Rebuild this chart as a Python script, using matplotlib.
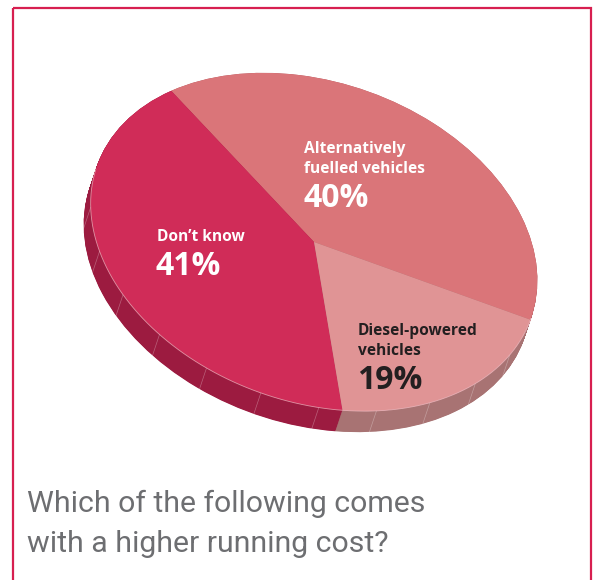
import numpy as np
import matplotlib.pyplot as plt
from matplotlib.patches import PathPatch, Rectangle
from matplotlib.transforms import Affine2D

# survey answers
answers = ['Alternatively\nfuelled vehicles', 'Don\u2019t know', 'Diesel-powered\nvehicles']
shares = [40, 41, 19]
top_colors = ['#da7579', '#d02c58', '#e09495']
side_colors = ['#b35d62', '#9c1b40', '#a87373']
text_colors = ['white', 'white', '#231f20']
question = ['Which of the following comes', 'with a higher running cost?']

# label anchors (first baseline, left edge) in pixels
label_xy = [(304, 153), (157, 241), (358, 335)]

# tilted disc geometry, pixel units (y grows downward)
cx, cy = 314, 242
a, b = 230, 160
tilt = 19.4
dx, dy = -7, 21

W, H = 597, 580
fig = plt.figure(figsize=(W / 100, H / 100), dpi=100)
ax = fig.add_axes([0, 0, 1, 1])

wedges, _ = ax.pie(shares, colors=top_colors, startangle=-0.5, counterclock=True,
                   wedgeprops=dict(linewidth=0))

disc = Affine2D().scale(a, -b).rotate_deg(tilt).translate(cx, cy)

# side wall: stack shifted copies of the wedges underneath the top face
for frac in np.linspace(1, 0, 45):
    shift = disc + Affine2D().translate(dx * frac, dy * frac) + ax.transData
    for w, col in zip(wedges, side_colors):
        ax.add_patch(PathPatch(w.get_path(), transform=shift, fc=col, ec='none',
                               lw=0, zorder=1))

for w in wedges:
    w.set_transform(disc + ax.transData)
    w.set_zorder(3)

# faint facet seams and rim on the visible part of the wall
t = np.radians(np.arange(0, 360, 15))
rim = disc.transform(np.c_[np.cos(t), np.sin(t)])
normal = Affine2D().scale(1 / a, -1 / b).rotate_deg(tilt).transform(np.c_[np.cos(t), np.sin(t)])
for (x0, y0), n in zip(rim, normal):
    if n[0] * dx + n[1] * dy > 0.15 * np.hypot(*n) * np.hypot(dx, dy):
        ax.plot([x0, x0 + dx], [y0, y0 + dy], color='white', alpha=0.3, lw=0.5, zorder=2)

tt = np.linspace(0, 2 * np.pi, 400)
edge = disc.transform(np.c_[np.cos(tt), np.sin(tt)])
nrm = Affine2D().scale(1 / a, -1 / b).rotate_deg(tilt).transform(np.c_[np.cos(tt), np.sin(tt)])
vis = (nrm[:, 0] * dx + nrm[:, 1] * dy) > 0
ex = np.where(vis, edge[:, 0], np.nan)
ey = np.where(vis, edge[:, 1], np.nan)
ax.plot(ex, ey, color='#f4c0c8', lw=0.6, alpha=0.7, zorder=4)

# labels
for (x, y), name, pct, col in zip(label_xy, answers, shares, text_colors):
    lines = name.split('\n')
    for i, line in enumerate(lines):
        ax.text(x, y + 20 * i, line, color=col, fontsize=11.2, fontweight='bold',
                family='Open Sans', ha='left', va='baseline', zorder=5)
    ax.text(x - 1, y + 20 * (len(lines) - 1) + 34, f'{pct}%', color=col, fontsize=23,
            fontweight='bold', family='Open Sans', ha='left', va='baseline', zorder=5)

for i, line in enumerate(question):
    ax.text(27, 512 + 40 * i, line, color='#6d6e71', fontsize=21.8,
            family='Roboto', ha='left', va='baseline', zorder=5)

# frame
ax.add_patch(Rectangle((13, 8), 578, 620, fill=False, ec='#d71f50', lw=1.6,
                       clip_on=False, zorder=6))

ax.set_aspect('auto')
ax.set_xlim(0, W)
ax.set_ylim(H, 0)
ax.axis('off')

fig.savefig('out.png', dpi=100, facecolor='white')
